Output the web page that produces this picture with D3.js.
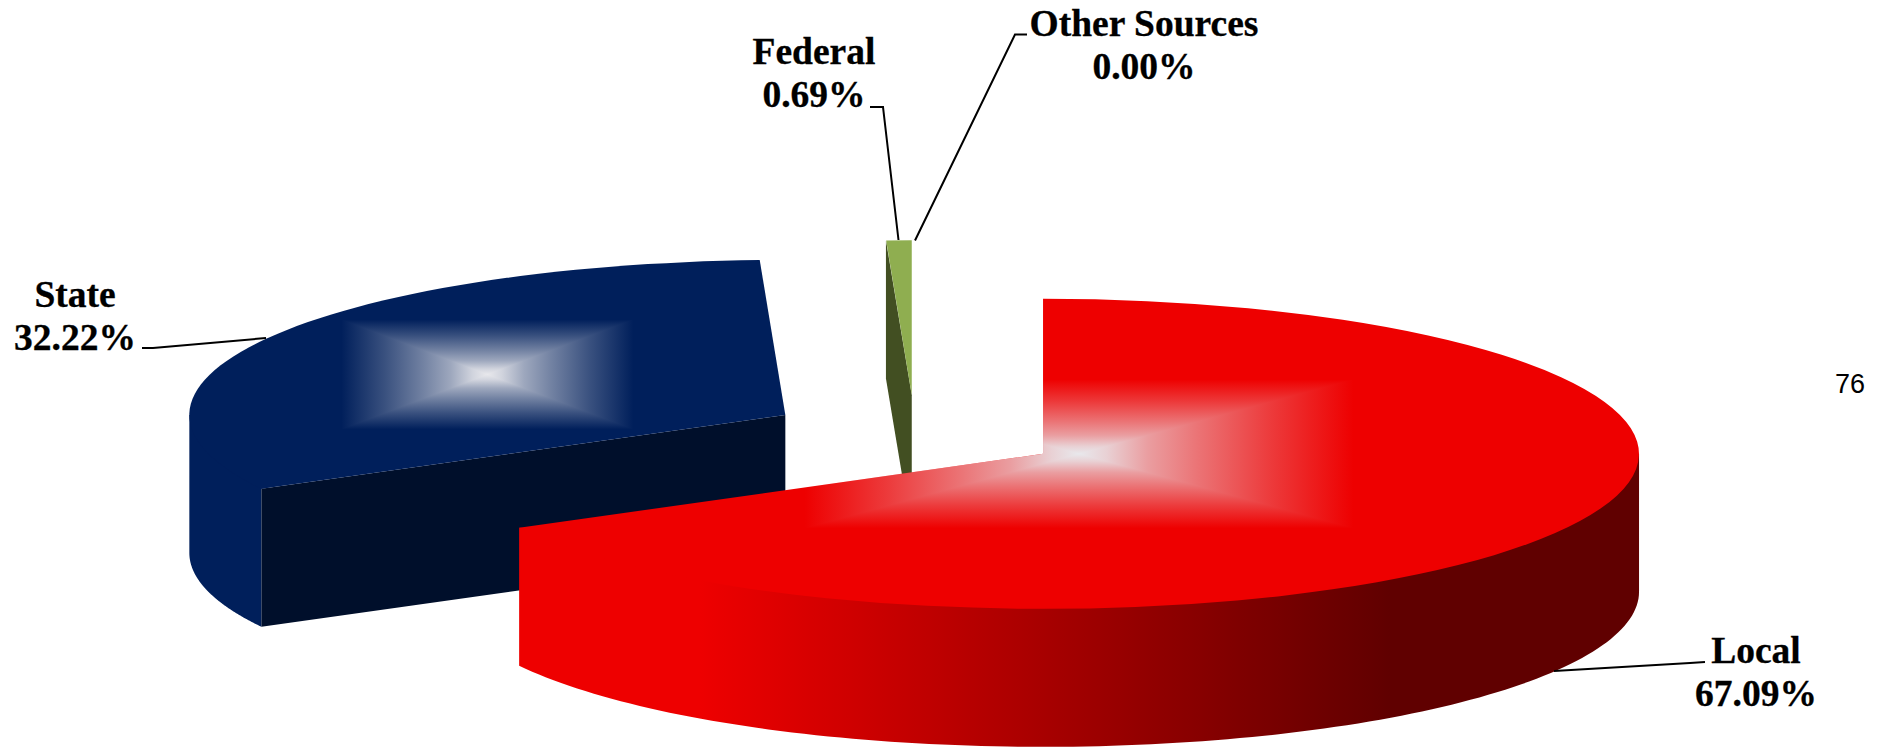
<!DOCTYPE html>
<html>
<head>
<meta charset="utf-8">
<title>Revenue by source</title>
<script src="https://cdn.jsdelivr.net/npm/d3@7"></script>
<style>
	html, body { margin: 0; padding: 0; background: #fff; overflow: hidden; }
	svg { display: block; }
	.lbl { font-family: "Liberation Serif", serif; font-weight: bold; font-size: 37.5px; fill: #000; stroke: #000; stroke-width: 0.3px; text-anchor: middle; }
	.pageNo { font-family: "Liberation Sans", sans-serif; font-size: 27px; fill: #000; text-anchor: middle; }
</style>
</head>
<body>
<svg id="chart"></svg>
<script>
// values, clockwise from 12 o'clock
const sources = ['Local', 'State', 'Federal', 'Other Sources'];
const shares = [67.09, 32.22, 0.69, 0.00];
const shareLabels = ['67.09%', '32.22%', '0.69%', '0.00%'];
const pageNumber = '76';

const topColors = ['#ee0000', '#001f5b', '#8fae50', '#8fae50'];
const faceColors = ['#600000', '#000f2b', '#424f22', '#424f22'];

const width = 1889;
const height = 749;

// pie geometry
const cx = 915, cy = 434;
const rx = 596, ry = 155;
const depth = 138;
const explode = 0.25;

// label text centre / first baseline and leader line
const labelPos = {
	'Local': { x: 1756, y: 663, line: [[1705, 662], [1690, 663], [1554, 671]] },
	'State': { x: 75, y: 307, line: [[142, 348], [153, 348], [266, 338]] },
	'Federal': { x: 814, y: 64, line: [[870, 107], [883, 107], [898.5, 240]] },
	'Other Sources': { x: 1144, y: 36, line: [[1027, 34.5], [1015, 34.5], [915, 240.5]] }
};

const svg = d3.select('#chart').attr('width', width).attr('height', height);
const defs = svg.append('defs');

// unit circle coords -> screen, angle 0 = up, clockwise like d3.arc
const scaleX = d3.scaleLinear().domain([-1, 1]).range([-rx, rx]);
const scaleY = d3.scaleLinear().domain([-1, 1]).range([-ry, ry]);

const pie = d3.pie().sort(null).value(d => d.value);
const arcs = pie(sources.map((s, i) => ({ name: s, value: shares[i], idx: i })));

arcs.forEach(a => {
	const mid = (a.startAngle + a.endAngle) / 2;
	a.cx = cx + explode * scaleX(Math.sin(mid));
	a.cy = cy + explode * scaleY(-Math.cos(mid));
	a.px = ang => a.cx + scaleX(Math.sin(ang));
	a.py = ang => a.cy + scaleY(-Math.cos(ang));
});

const unitArc = d3.arc().innerRadius(0).outerRadius(1);
const lineGen = d3.line();

// gradient across the front wall of the red slice
const rimGrad = defs.append('linearGradient').attr('id', 'rimRed')
	.attr('gradientUnits', 'userSpaceOnUse')
	.attr('x1', 700).attr('x2', 1390).attr('y1', 0).attr('y2', 0);
rimGrad.append('stop').attr('offset', 0).attr('stop-color', topColors[0]);
rimGrad.append('stop').attr('offset', 1).attr('stop-color', faceColors[0]);

// glare goes near white in the middle, dies out at the rectangle edge
const glareStops = [[0, 1], [0.1, 0.9], [0.25, 0.68], [0.43, 0.5], [0.7, 0.25], [1, 0]];
function addGlareGrad(id, x1, y1, x2, y2) {
	const g = defs.append('linearGradient').attr('id', id)
		.attr('gradientUnits', 'userSpaceOnUse')
		.attr('x1', x1).attr('y1', y1).attr('x2', x2).attr('y2', y2);
	glareStops.forEach(s => {
		g.append('stop').attr('offset', s[0]).attr('stop-color', '#e8e8ec').attr('stop-opacity', s[1]);
	});
}

function drawSlice(a, layer) {
	const i = a.data.idx;
	if (a.endAngle - a.startAngle === 0) return;
	const g = layer.append('g').attr('class', 'slice');

	// outer wall, only the part facing us (90deg..270deg)
	const from = Math.max(a.startAngle, Math.PI / 2);
	const to = Math.min(a.endAngle, Math.PI * 3 / 2);
	if (to > from) {
		const steps = d3.range(0, 121).map(k => from + (to - from) * k / 120);
		// upper edge tucked under the top so no hairline shows between them
		const upper = steps.map((t, k) => {
			const inset = (k === 0 || k === 120) ? 1 : 0.97;
			return [a.cx + inset * scaleX(Math.sin(t)), a.cy + inset * scaleY(-Math.cos(t))];
		});
		const lower = steps.slice().reverse().map(t => [a.px(t), a.py(t) + depth]);
		g.append('path')
			.attr('d', lineGen(upper.concat(lower)) + 'Z')
			.attr('fill', i === 0 ? 'url(#rimRed)' : topColors[i]);
	}

	// cut faces: start face looks our way when sin < 0, end face when sin > 0
	[[a.startAngle, -1], [a.endAngle, 1]].forEach(([ang, sign]) => {
		if (sign * Math.sin(ang) > 0.001) {
			const poly = [[a.cx, a.cy], [a.px(ang), a.py(ang)], [a.px(ang), a.py(ang) + depth], [a.cx, a.cy + depth]];
			g.append('path').attr('d', lineGen(poly) + 'Z').attr('fill', faceColors[i]);
		}
	});

	// top
	const topD = unitArc(a);
	g.append('path')
		.attr('d', topD)
		.attr('transform', `translate(${a.cx},${a.cy}) scale(${rx},${ry})`)
		.attr('fill', topColors[i]);

	// rectangular glare, half the size of the top's bounding box
	if (a.endAngle - a.startAngle > 0.5) {
		const pts = d3.range(0, 201).map(k => {
			const t = a.startAngle + (a.endAngle - a.startAngle) * k / 200;
			return [a.px(t), a.py(t)];
		}).concat([[a.cx, a.cy]]);
		const [x0, x1] = d3.extent(pts, p => p[0]);
		const [y0, y1] = d3.extent(pts, p => p[1]);
		const mx = (x0 + x1) / 2, my = (y0 + y1) / 2;
		const hw = (x1 - x0) * 0.245, hh = (y1 - y0) * 0.24;

		const clipId = 'clip' + i;
		defs.append('clipPath').attr('id', clipId).append('path')
			.attr('d', topD)
			.attr('transform', `translate(${a.cx},${a.cy}) scale(${rx},${ry})`);

		const tl = [mx - hw, my - hh], tr = [mx + hw, my - hh], br = [mx + hw, my + hh], bl = [mx - hw, my + hh], c = [mx, my];
		const tris = [
			{ p: [c, tl, tr], end: [mx, my - hh] },
			{ p: [c, tr, br], end: [mx + hw, my] },
			{ p: [c, br, bl], end: [mx, my + hh] },
			{ p: [c, bl, tl], end: [mx - hw, my] }
		];
		const glare = g.append('g').attr('clip-path', `url(#${clipId})`);
		tris.forEach((t, k) => {
			const id = `glare${i}_${k}`;
			addGlareGrad(id, mx, my, t.end[0], t.end[1]);
			glare.append('path').attr('d', lineGen(t.p) + 'Z')
				.attr('shape-rendering', 'crispEdges')
				.attr('fill', `url(#${id})`);
		});
	}
}

// back to front: State, Federal, then Local over them
const layer = svg.append('g');
[1, 2, 3, 0].forEach(k => drawSlice(arcs[k], layer));

// labels with leader lines
const labels = svg.append('g');
sources.forEach((name, i) => {
	const p = labelPos[name];
	labels.append('path')
		.attr('d', lineGen(p.line))
		.attr('fill', 'none')
		.attr('stroke', '#000')
		.attr('stroke-width', 2);
	labels.append('text').attr('class', 'lbl').attr('x', p.x).attr('y', p.y).text(name);
	labels.append('text').attr('class', 'lbl').attr('x', p.x).attr('y', p.y + 43).text(shareLabels[i]);
});

svg.append('text').attr('class', 'pageNo').attr('x', 1850).attr('y', 393).text(pageNumber);
</script>
</body>
</html>
